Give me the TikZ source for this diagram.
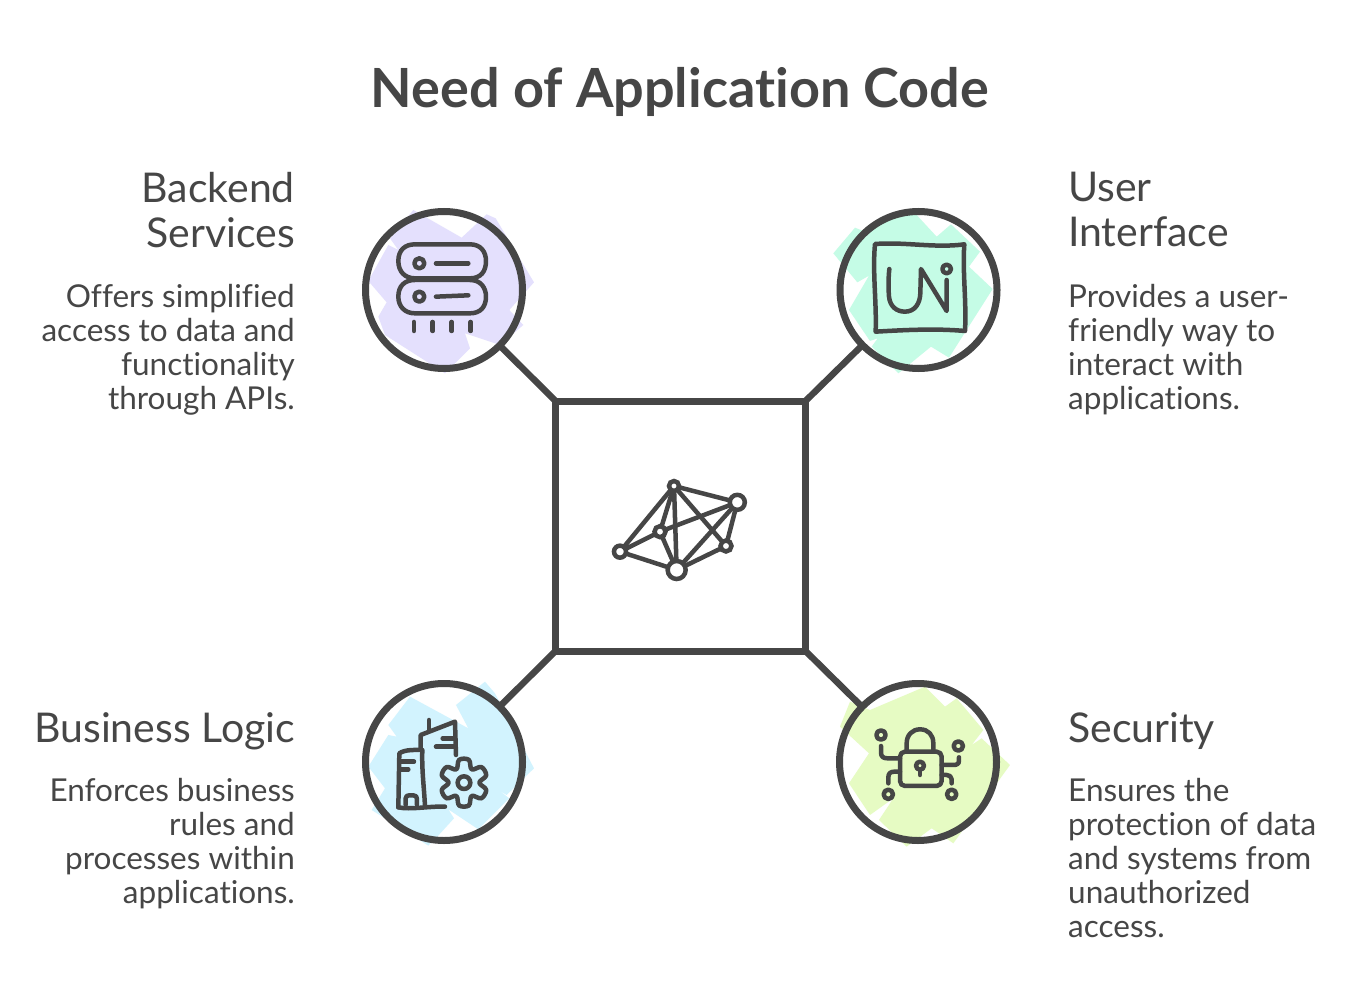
\documentclass[tikz,border=0pt]{standalone}
\usepackage{fontspec}
\setmainfont[Ligatures=NoCommon]{Lato}
\usetikzlibrary{shapes.geometric}
\definecolor{inkColor}{RGB}{70,70,70}
\definecolor{purpleColor}{RGB}{228,224,253}
\definecolor{mintColor}{RGB}{197,252,230}
\definecolor{skyColor}{RGB}{210,243,254}
\definecolor{limeColor}{RGB}{230,251,195}
\tikzset{
  zoomed/.style={x=0.3333pt,y=-0.3333pt},
  ring/.style={circle,draw=inkColor,line width=7pt,minimum size=157pt,inner sep=0pt,outer sep=0pt},
  hubbox/.style={rectangle,draw=inkColor,line width=7pt,minimum size=250pt,inner sep=0pt,outer sep=0pt},
  link/.style={draw=inkColor,line width=6.5pt},
  glyph/.style={draw=inkColor,line width=4.5pt,line cap=round,line join=round},
  dot/.style={circle,draw=inkColor,line width=4.5pt,fill=white,inner sep=0pt},
  edge/.style={draw=inkColor,line width=4.5pt,line cap=round},
  titletext/.style={text=inkColor,inner sep=0pt,font=\fontsize{54}{58}\selectfont\bfseries},
  headtext/.style={text=inkColor,inner sep=0pt,font=\fontsize{41}{45}\selectfont},
  bodytext/.style={text=inkColor,inner sep=0pt,font=\fontsize{31.5}{34}\selectfont}
}
\begin{document}
\begin{tikzpicture}[x=1pt,y=-1pt]
\path[use as bounding box,fill=white] (0,0) rectangle (1352,1006);

% colour patches
\begin{scope}[shift={(350,195)},zoomed]
\fill[purpleColor] (190,45) -- (335,128) -- (410,58) -- (437,70) -- (552,262) -- (478,345) -- (520,390) -- (450,450) -- (345,415) -- (360,460) -- (310,510) -- (285,535) -- (105,420) -- (85,365) -- (110,322) -- (55,258) -- (115,150) -- (145,165) -- (120,130) -- cycle;
\end{scope}
\begin{scope}[shift={(825,195)},zoomed]
\fill[mintColor] (25,175) -- (90,98) -- (125,112) -- (200,60) -- (275,60) -- (335,125) -- (378,88) -- (465,170) -- (432,215) -- (503,282) -- (372,488) -- (318,455) -- (220,535) -- (140,455) -- (158,430) -- (135,438) -- (72,345) -- (132,242) -- (97,262) -- cycle;
\end{scope}
\begin{scope}[shift={(350,670)},zoomed]
\fill[skyColor] (180,80) -- (355,175) -- (318,105) -- (405,35) -- (435,70) -- (552,295) -- (470,375) -- (445,360) -- (478,385) -- (385,478) -- (295,418) -- (312,445) -- (262,500) -- (235,527) -- (65,420) -- (105,355) -- (55,290) -- (115,195) -- (140,200) -- (115,165) -- cycle;
\end{scope}
\begin{scope}[shift={(825,670)},zoomed]
\fill[limeColor] (75,95) -- (135,120) -- (300,50) -- (360,110) -- (395,85) -- (475,180) -- (440,225) -- (470,205) -- (555,285) -- (385,520) -- (320,475) -- (245,530) -- (162,450) -- (205,385) -- (135,435) -- (72,340) -- (132,250) -- (45,170) -- cycle;
\end{scope}

% hub and rings
\node[hubbox] (hub) at (680.5,526) {};
\node[ring] (backend) at (444,290) {};
\node[ring] (interface) at (918.5,290) {};
\node[ring] (logic) at (444,762) {};
\node[ring] (security) at (918,762) {};
\draw[link] (hub.north west) -- (backend);
\draw[link] (hub.north east) -- (interface);
\draw[link] (hub.south west) -- (logic);
\draw[link] (hub.south east) -- (security);

% server icon
\begin{scope}[shift={(350,195)},zoomed]
\draw[glyph] (145,198) .. controls (145,165) and (165,148) .. (195,148) -- (360,148) .. controls (392,148) and (408,170) .. (408,198) .. controls (408,230) and (392,250) .. (360,250) -- (195,250) .. controls (165,250) and (145,230) .. (145,198) -- cycle;
\draw[glyph] (145,305) .. controls (145,272) and (165,255) .. (195,255) -- (360,255) .. controls (392,255) and (408,278) .. (408,305) .. controls (408,335) and (392,355) .. (360,355) -- (195,355) .. controls (165,355) and (145,335) .. (145,305) -- cycle;
\draw[glyph] (208,205) circle[radius=15];
\draw[glyph] (208,305) circle[radius=15];
\draw[glyph] (258,205) -- (355,205);
\draw[glyph] (258,305) -- (355,301);
\foreach \xtick in {192,248,305,362}
  \draw[glyph] (\xtick,381) -- (\xtick,408);
\end{scope}

% interface icon
\begin{scope}[shift={(825,195)},zoomed]
\draw[glyph] (150,147) .. controls (240,140) and (330,160) .. (418,148) .. controls (412,230) and (425,320) .. (420,408) .. controls (330,400) and (240,405) .. (152,410) .. controls (155,320) and (142,230) .. (150,147) -- cycle;
\draw[glyph] (193,222) .. controls (190,250) and (190,280) .. (192,305) .. controls (195,335) and (215,350) .. (240,350) .. controls (270,350) and (285,325) .. (286,295) -- (288,222) -- (365,348) -- (365,255);
\draw[glyph] (365,222) circle[radius=13];
\end{scope}

% buildings and gear icon
\begin{scope}[shift={(350,670)},zoomed]
\draw[glyph] (145,412) -- (148,250) .. controls (165,238) and (195,240) .. (217,240) .. controls (215,300) and (222,350) .. (225,408);
\draw[glyph] (145,412) .. controls (180,420) and (240,408) .. (285,410);
\draw[glyph] (167,405) -- (167,385) .. controls (167,378) and (172,376) .. (178,376) -- (190,376) .. controls (198,376) and (201,380) .. (201,388) -- (201,405);
\draw[glyph] (150,275) -- (192,275);
\draw[glyph] (150,298) -- (175,298);
\draw[glyph] (212,235) -- (212,195) -- (315,155) -- (318,255);
\draw[glyph] (237,150) -- (237,182);
\draw[glyph] (278,205) -- (315,205);
\draw[glyph] (258,230) -- (315,230);
\draw[glyph] (342,338) circle[radius=19];
\draw[glyph,shift={(342,338)}] plot[smooth cycle,tension=.6] coordinates {(78:70) (102:70) (120:46) (138:70) (162:70) (180:46) (198:70) (222:70) (240:46) (258:70) (282:70) (300:46) (318:70) (342:70) (0:46) (18:70) (42:70) (60:46)};
\end{scope}

% lock icon
\begin{scope}[shift={(825,670)},zoomed]
\draw[glyph,rounded corners=5pt] (225,245) rectangle (350,348);
\draw[glyph] (245,242) -- (245,220) .. controls (245,195) and (262,178) .. (285,178) .. controls (310,178) and (325,195) .. (325,220) -- (325,242);
\draw[glyph] (285,287) circle[radius=12];
\draw[glyph] (285,299) -- (285,315);
\draw[glyph] (168,195) circle[radius=14];
\draw[glyph] (190,373) circle[radius=14];
\draw[glyph] (400,228) circle[radius=14];
\draw[glyph] (380,373) circle[radius=14];
\draw[glyph] (168,228) -- (168,248) .. controls (168,260) and (175,265) .. (188,265) -- (225,265);
\draw[glyph] (190,340) -- (190,322) .. controls (190,310) and (197,305) .. (208,305) -- (225,305);
\draw[glyph] (402,262) -- (402,272) .. controls (402,282) and (395,285) .. (385,285) -- (350,285);
\draw[glyph] (380,340) -- (380,328) .. controls (380,320) and (373,315) .. (365,315) -- (350,315);
\end{scope}

% network icon
\begin{scope}[shift={(600,465)},zoomed]
\coordinate (netA) at (222,63);
\coordinate (netB) at (412,112);
\coordinate (netC) at (180,200);
\coordinate (netD) at (60,260);
\coordinate (netE) at (230,315);
\coordinate (netF) at (378,243);
\foreach \from/\to in {netA/netB,netA/netD,netA/netC,netA/netE,netA/netF,netB/netC,netB/netE,netB/netF,netC/netD,netC/netE,netD/netE,netE/netF}
  \draw[edge] (\from) -- (\to);
\node[dot,minimum size=10pt] at (netA) {};
\node[dot,minimum size=15pt] at (netB) {};
\node[dot,minimum size=11pt] at (netC) {};
\node[dot,minimum size=12pt] at (netD) {};
\node[dot,minimum size=18pt] at (netE) {};
\node[dot,minimum size=11pt] at (netF) {};
\end{scope}

% texts
\node[titletext,anchor=base] (title) at (680,108) {Need of Application Code};
\node[headtext,anchor=north east,align=right] (backendhead) at (295,172) {Backend\\Services};
\node[bodytext,anchor=north east,align=right] (backendbody) at (295,284) {Offers simplified\\access to data and\\functionality\\through APIs.};
\node[headtext,anchor=north west,align=left] (interfacehead) at (1068,172) {User\\Interface};
\node[bodytext,anchor=north west,align=left] (interfacebody) at (1068,284) {Provides a user-\\friendly way to\\interact with\\applications.};
\node[headtext,anchor=north east,align=right] (logichead) at (295,712) {Business Logic};
\node[bodytext,anchor=north east,align=right] (logicbody) at (295,778) {Enforces business\\rules and\\processes within\\applications.};
\node[headtext,anchor=north west,align=left] (securityhead) at (1068,712) {Security};
\node[bodytext,anchor=north west,align=left] (securitybody) at (1068,778) {Ensures the\\protection of data\\and systems from\\unauthorized\\access.};
\end{tikzpicture}
\end{document}
